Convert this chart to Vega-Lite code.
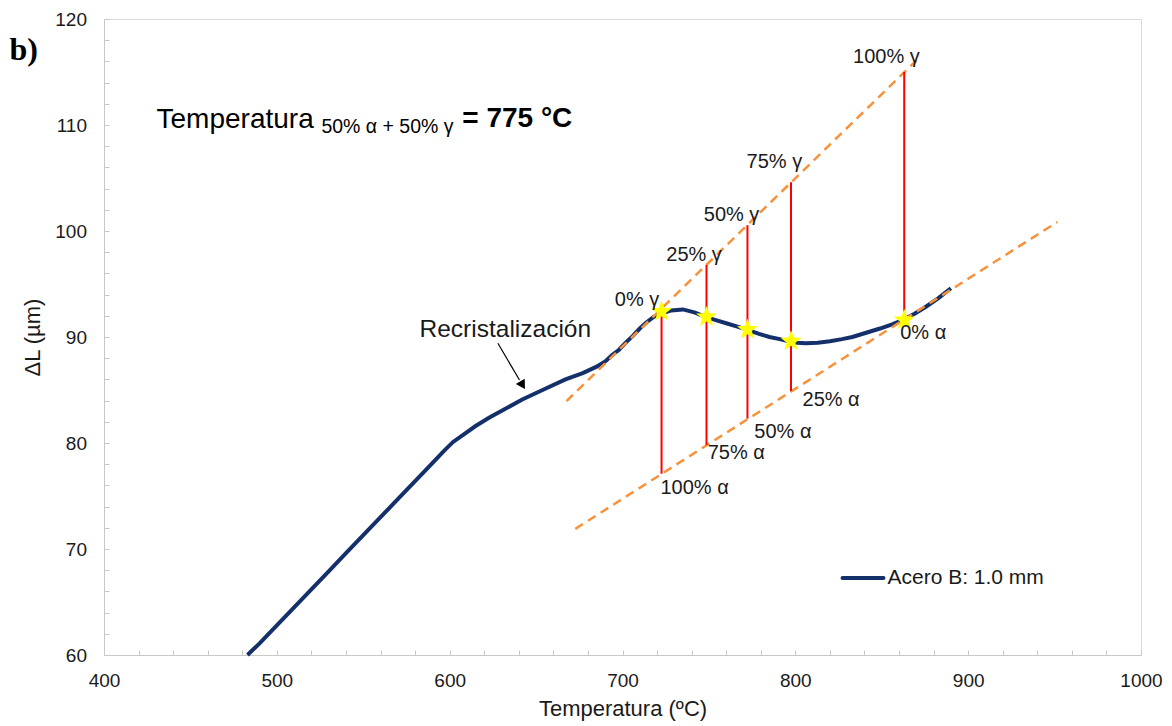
{
  "$schema": "https://vega.github.io/schema/vega-lite/v6.json",
  "width": 1037,
  "height": 636,
  "autosize": {"type": "none"},
  "padding": {"left": 104, "top": 19, "right": 31, "bottom": 71},
  "background": "white",
  "config": {
    "view": {"stroke": "#D9D9D9", "strokeWidth": 1},
    "font": "Liberation Sans"
  },
  "datasets": {
    "curve": [
      {"T": 483, "L": 60}, {"T": 490, "L": 61.1}, {"T": 500, "L": 62.8}, {"T": 510, "L": 64.5},
      {"T": 520, "L": 66.2}, {"T": 530, "L": 67.9}, {"T": 540, "L": 69.6}, {"T": 550, "L": 71.3},
      {"T": 560, "L": 73.0}, {"T": 570, "L": 74.7}, {"T": 580, "L": 76.4}, {"T": 590, "L": 78.1},
      {"T": 597, "L": 79.3}, {"T": 602, "L": 80.1}, {"T": 608, "L": 80.8}, {"T": 615, "L": 81.6},
      {"T": 623, "L": 82.4}, {"T": 632, "L": 83.2}, {"T": 642, "L": 84.1}, {"T": 655, "L": 85.1},
      {"T": 667, "L": 86.0}, {"T": 677, "L": 86.6}, {"T": 685, "L": 87.2}, {"T": 690, "L": 87.7},
      {"T": 694, "L": 88.3}, {"T": 698, "L": 88.8}, {"T": 702, "L": 89.5}, {"T": 706, "L": 90.1},
      {"T": 710, "L": 90.8}, {"T": 714, "L": 91.4}, {"T": 718, "L": 91.9}, {"T": 722, "L": 92.2},
      {"T": 728, "L": 92.5}, {"T": 735, "L": 92.6}, {"T": 742, "L": 92.3}, {"T": 748, "L": 91.9},
      {"T": 754, "L": 91.6}, {"T": 760, "L": 91.3}, {"T": 766, "L": 91.0}, {"T": 772, "L": 90.7},
      {"T": 779, "L": 90.3}, {"T": 785, "L": 90.0}, {"T": 791, "L": 89.8}, {"T": 796, "L": 89.6},
      {"T": 801, "L": 89.45}, {"T": 806, "L": 89.4}, {"T": 813, "L": 89.45}, {"T": 820, "L": 89.6},
      {"T": 827, "L": 89.8}, {"T": 833, "L": 90.0}, {"T": 841, "L": 90.4}, {"T": 849, "L": 90.8},
      {"T": 856, "L": 91.2}, {"T": 862, "L": 91.6}, {"T": 869, "L": 92.2}, {"T": 876, "L": 92.9},
      {"T": 883, "L": 93.7}, {"T": 890, "L": 94.6}
    ],
    "guides": [
      {"line": "gamma", "T": 667.6, "L": 83.96}, {"line": "gamma", "T": 870.1, "L": 116.1},
      {"line": "alpha", "T": 672.7, "L": 71.9}, {"line": "alpha", "T": 951.6, "L": 100.85}
    ],
    "rules": [
      {"T": 722.6, "L": 77.1, "L2": 92.4}, {"T": 748.6, "L": 79.8, "L2": 96.8},
      {"T": 772.3, "L": 82.3, "L2": 100.55}, {"T": 797.5, "L": 84.9, "L2": 104.6},
      {"T": 863, "L": 91.65, "L2": 115.0}
    ],
    "stars": [
      {"T": 722.6, "L": 92.4}, {"T": 748.6, "L": 91.9}, {"T": 772.3, "L": 90.7},
      {"T": 797.5, "L": 89.6}, {"T": 863, "L": 91.6}
    ],
    "labels": [
      {"T": 708.4, "L": 93.49, "text": "0% γ"}, {"T": 741.4, "L": 97.74, "text": "25% γ"},
      {"T": 763.1, "L": 101.51, "text": "50% γ"}, {"T": 787.9, "L": 106.51, "text": "75% γ"},
      {"T": 852.7, "L": 116.42, "text": "100% γ"}, {"T": 874, "L": 90.38, "text": "0% α"},
      {"T": 820.7, "L": 84.06, "text": "25% α"}, {"T": 792.8, "L": 81.07, "text": "50% α"},
      {"T": 765.8, "L": 79.03, "text": "75% α"}, {"T": 741.7, "L": 75.73, "text": "100% α"}
    ],
    "arrow": [{"T": 627.9, "L": 89.41}, {"T": 640.4, "L": 85.94}],
    "arrowhead": [{"T": 642.2, "L": 85.45}],
    "legendline": [{"T": 827.3, "L": 67.26}, {"T": 851.0, "L": 67.26}],
    "legendtext": [{"T": 853.3, "L": 67.26, "text": "Acero B: 1.0 mm"}],
    "recri": [{"T": 632.2, "L": 90.66, "text": "Recristalización"}],
    "t1": [{"T": 430.4, "L": 109.72, "text": "Temperatura"}],
    "t2": [{"T": 525.8, "L": 109.25, "text": "50% α + 50% γ"}],
    "t3": [{"T": 607.3, "L": 109.8, "text": "= 775 °C"}],
    "tb": [{"T": 345.3, "L": 116.13, "text": "b)"}]
  },
  "layer": [
    {
      "data": {"name": "curve"},
      "mark": {"type": "line", "color": "#14306B", "strokeWidth": 4},
      "encoding": {
        "x": {
          "field": "T", "type": "quantitative",
          "scale": {"domain": [400, 1000], "nice": false, "zero": false},
          "axis": {
            "title": "Temperatura (ºC)",
            "values": [400,420,440,460,480,500,520,540,560,580,600,620,640,660,680,700,720,740,760,780,800,820,840,860,880,900,920,940,960,980,1000],
            "tickCount": 200,
            "format": "d",
            "labelExpr": "datum.value % 100 === 0 ? datum.label : ''",
            "grid": false, "domainColor": "#C8C8C8", "tickColor": "#C8C8C8",
            "tickSize": -5, "labelPadding": 21, "labelFontSize": 19, "labelColor": "#1a1a1a",
            "labelFlush": false, "labelOverlap": false,
            "titleFontSize": 22, "titleFontWeight": "normal", "titleColor": "#1a1a1a", "titlePadding": 8
          }
        },
        "y": {
          "field": "L", "type": "quantitative",
          "scale": {"domain": [60, 120], "nice": false, "zero": false},
          "axis": {
            "title": "ΔL (µm)",
            "values": [60,62,64,66,68,70,72,74,76,78,80,82,84,86,88,90,92,94,96,98,100,102,104,106,108,110,112,114,116,118,120],
            "tickCount": 200,
            "format": "d",
            "labelExpr": "datum.value % 10 === 0 ? datum.label : ''",
            "grid": false, "domainColor": "#C8C8C8", "tickColor": "#C8C8C8",
            "tickSize": -5, "labelPadding": 22.5, "labelFontSize": 19, "labelColor": "#1a1a1a",
            "labelFlush": false, "labelOverlap": false,
            "titleFontSize": 22, "titleFontWeight": "normal", "titleColor": "#1a1a1a", "titlePadding": 10
          }
        }
      }
    },
    {
      "data": {"name": "guides"},
      "mark": {"type": "line", "color": "#F7923A", "strokeWidth": 2.5, "strokeDash": [9, 6]},
      "encoding": {
        "x": {"field": "T", "type": "quantitative"},
        "y": {"field": "L", "type": "quantitative"},
        "detail": {"field": "line", "type": "nominal"}
      }
    },
    {
      "data": {"name": "rules"},
      "mark": {"type": "rule", "color": "#FF0000", "strokeWidth": 2},
      "encoding": {
        "x": {"field": "T", "type": "quantitative"},
        "y": {"field": "L", "type": "quantitative"},
        "y2": {"field": "L2"}
      }
    },
    {
      "data": {"name": "stars"},
      "mark": {"type": "point", "shape": "M0,-1L0.247,-0.34L0.951,-0.309L0.399,0.13L0.588,0.809L0,0.42L-0.588,0.809L-0.399,0.13L-0.951,-0.309L-0.247,-0.34Z", "filled": true, "color": "#FFFF00", "opacity": 1, "size": 480},
      "encoding": {
        "x": {"field": "T", "type": "quantitative"},
        "y": {"field": "L", "type": "quantitative"}
      }
    },
    {
      "data": {"name": "labels"},
      "mark": {"type": "text", "fontSize": 20, "color": "#1a1a1a", "align": "center", "baseline": "middle"},
      "encoding": {
        "x": {"field": "T", "type": "quantitative"},
        "y": {"field": "L", "type": "quantitative"},
        "text": {"field": "text", "type": "nominal"}
      }
    },
    {
      "data": {"name": "arrow"},
      "mark": {"type": "line", "color": "#000000", "strokeWidth": 1.2},
      "encoding": {
        "x": {"field": "T", "type": "quantitative"},
        "y": {"field": "L", "type": "quantitative"}
      }
    },
    {
      "data": {"name": "arrowhead"},
      "mark": {"type": "point", "shape": "triangle-down", "filled": true, "color": "#000000", "opacity": 1, "size": 110, "angle": 329},
      "encoding": {
        "x": {"field": "T", "type": "quantitative"},
        "y": {"field": "L", "type": "quantitative"}
      }
    },
    {
      "data": {"name": "legendline"},
      "mark": {"type": "line", "color": "#14306B", "strokeWidth": 4, "strokeCap": "round"},
      "encoding": {
        "x": {"field": "T", "type": "quantitative"},
        "y": {"field": "L", "type": "quantitative"}
      }
    },
    {
      "data": {"name": "legendtext"},
      "mark": {"type": "text", "fontSize": 21, "color": "#1a1a1a", "align": "left", "baseline": "middle"},
      "encoding": {
        "x": {"field": "T", "type": "quantitative"},
        "y": {"field": "L", "type": "quantitative"},
        "text": {"field": "text", "type": "nominal"}
      }
    },
    {
      "data": {"name": "recri"},
      "mark": {"type": "text", "fontSize": 24.5, "color": "#1a1a1a", "align": "center", "baseline": "middle"},
      "encoding": {
        "x": {"field": "T", "type": "quantitative"},
        "y": {"field": "L", "type": "quantitative"},
        "text": {"field": "text", "type": "nominal"}
      }
    },
    {
      "data": {"name": "t1"},
      "mark": {"type": "text", "fontSize": 28, "color": "#000000", "align": "left", "baseline": "alphabetic"},
      "encoding": {
        "x": {"field": "T", "type": "quantitative"},
        "y": {"field": "L", "type": "quantitative"},
        "text": {"field": "text", "type": "nominal"}
      }
    },
    {
      "data": {"name": "t2"},
      "mark": {"type": "text", "fontSize": 19.5, "color": "#000000", "align": "left", "baseline": "alphabetic"},
      "encoding": {
        "x": {"field": "T", "type": "quantitative"},
        "y": {"field": "L", "type": "quantitative"},
        "text": {"field": "text", "type": "nominal"}
      }
    },
    {
      "data": {"name": "t3"},
      "mark": {"type": "text", "fontSize": 28, "fontWeight": "bold", "color": "#000000", "align": "left", "baseline": "alphabetic"},
      "encoding": {
        "x": {"field": "T", "type": "quantitative"},
        "y": {"field": "L", "type": "quantitative"},
        "text": {"field": "text", "type": "nominal"}
      }
    },
    {
      "data": {"name": "tb"},
      "mark": {"type": "text", "fontSize": 32, "fontWeight": "bold", "font": "Liberation Serif", "color": "#000000", "align": "left", "baseline": "alphabetic"},
      "encoding": {
        "x": {"field": "T", "type": "quantitative"},
        "y": {"field": "L", "type": "quantitative"},
        "text": {"field": "text", "type": "nominal"}
      }
    }
  ]
}
